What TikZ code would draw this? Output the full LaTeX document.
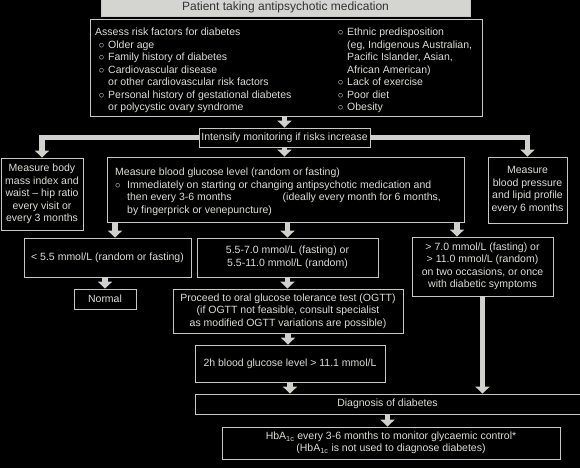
\documentclass[tikz,border=0pt]{standalone}
\usepackage{fontspec}
\setmainfont{Liberation Sans}
\usetikzlibrary{arrows.meta}

\definecolor{boxline}{HTML}{C8C8C4}
\definecolor{boxtext}{HTML}{DCDCD8}
\definecolor{flowgray}{HTML}{D0D0CC}
\definecolor{topfill}{HTML}{D4D4D0}
\newcommand{\itm}{\makebox[13pt][c]{$\circ$}}
\newcommand{\ind}{\hspace*{13pt}}

\begin{document}
\begin{tikzpicture}[x=1pt,y=-1pt,
	box/.style={draw=boxline, line width=.8pt, text=boxtext, align=center, inner sep=0pt, font=\fontsize{10.5}{12.5}\selectfont},
	plain/.style={text=boxtext, align=left, inner sep=0pt, anchor=north west, font=\fontsize{10.5}{12.5}\selectfont},
	flow/.style={draw=flowgray, line width=5.5pt, -{Triangle[width=14pt,length=7pt]}}]
\useasboundingbox[fill=black] (0,0) rectangle (580,468);

% top of the chart
\node[box, fill=topfill, text=black!80, font=\fontsize{12}{14}\selectfont, minimum width=369pt, minimum height=17pt] (patient) at (285.5,7.5) {Patient taking antipsychotic medication};
\node[box, minimum width=392pt, minimum height=97pt] (assess) at (286,67.5) {};
\node[plain] (riskleft) at (95,28) {Assess risk factors for diabetes\\
	\itm Older age\\
	\itm Family history of diabetes\\
	\itm Cardiovascular disease\\
	\ind or other cardiovascular risk factors\\
	\itm Personal history of gestational diabetes\\
	\ind or polycystic ovary syndrome};
\node[plain] (riskright) at (334,28) {\itm Ethnic predisposition\\
	\ind(eg, Indigenous Australian,\\
	\ind Pacific Islander, Asian,\\
	\ind African American)\\
	\itm Lack of exercise\\
	\itm Poor diet\\
	\itm Obesity};
\node[box, minimum width=171pt, minimum height=19pt] (intense) at (284.5,137.5) {Intensify monitoring if risks increase};

% measurements
\node[box, minimum width=82pt, minimum height=72pt] (bmi) at (42,194) {Measure body\\ mass index and\\ waist -- hip ratio\\ every visit or\\ every 3 months};
\node[box, minimum width=357pt, minimum height=65pt] (glucose) at (285.5,189.5) {};
\node[plain] (glucosetext) at (115,168) {Measure blood glucose level (random or fasting)\\
	\makebox[12pt][l]{$\circ$}Immediately on starting or changing antipsychotic medication and\\
	\hspace*{12pt}then every 3-6 months\hspace{51pt}(ideally every month for 6 months,\\
	\hspace*{12pt}by fingerprick or venepuncture)};
\node[box, minimum width=79pt, minimum height=66pt] (bp) at (527.5,190) {Measure\\ blood pressure\\ and lipid profile\\ every 6 months};

% results
\node[box, minimum width=167pt, minimum height=39pt] (low) at (107.5,257.5) {< 5.5 mmol/L (random or fasting)};
\node[box, minimum width=181pt, minimum height=39pt] (mid) at (287.5,257.5) {5.5-7.0 mmol/L (fasting) or\\ 5.5-11.0 mmol/L (random)};
\node[box, minimum width=141pt, minimum height=59pt] (high) at (482.5,266.5) {> 7.0 mmol/L (fasting) or\\ > 11.0 mmol/L (random)\\ on two occasions, or once\\ with diabetic symptoms};
\node[box, minimum width=62pt, minimum height=20pt] (normal) at (105,299) {Normal};
\node[box, minimum width=230pt, minimum height=44pt] (ogtt) at (288,311) {Proceed to oral glucose tolerance test (OGTT)\\ (if OGTT not feasible, consult specialist\\ as modified OGTT variations are possible)};
\node[box, minimum width=190pt, minimum height=37pt] (twoh) at (290,363.5) {2h blood glucose level > 11.1 mmol/L};
\node[box, minimum width=385pt, minimum height=20pt] (diag) at (387.5,404) {Diagnosis of diabetes};
\node[box, minimum width=338pt, minimum height=32pt] (hba) at (391,443) {HbA\textsubscript{1c} every 3-6 months to monitor glycaemic control*\\ (HbA\textsubscript{1c} is not used to diagnose diabetes)};

% arrows
\draw[flow] (intense.north |- assess.south) -- (intense.north);
\draw[flow] (intense.west) -| (bmi.north);
\draw[flow] (intense.east) -| (bp.north);
\draw[flow] (intense.south) -- (intense.south |- glucose.north);
\draw[flow] ([xshift=7.5pt]low.north |- glucose.south) -- ([xshift=7.5pt]low.north);
\draw[flow] (mid.north |- glucose.south) -- (mid.north);
\draw[flow] ([xshift=-25.5pt]high.north |- glucose.south) -- ([xshift=-25.5pt]high.north);
\draw[flow] (normal.north |- low.south) -- (normal.north);
\draw[flow] (mid.south) -- (mid.south |- ogtt.north);
\draw[flow] (ogtt.south) -- (ogtt.south |- twoh.north);
\draw[flow] (twoh.south) -- (twoh.south |- diag.north);
\draw[flow] (high.south) -- (high.south |- diag.north);
\draw[flow] (diag.south) -- (diag.south |- hba.north);
\end{tikzpicture}
\end{document}
